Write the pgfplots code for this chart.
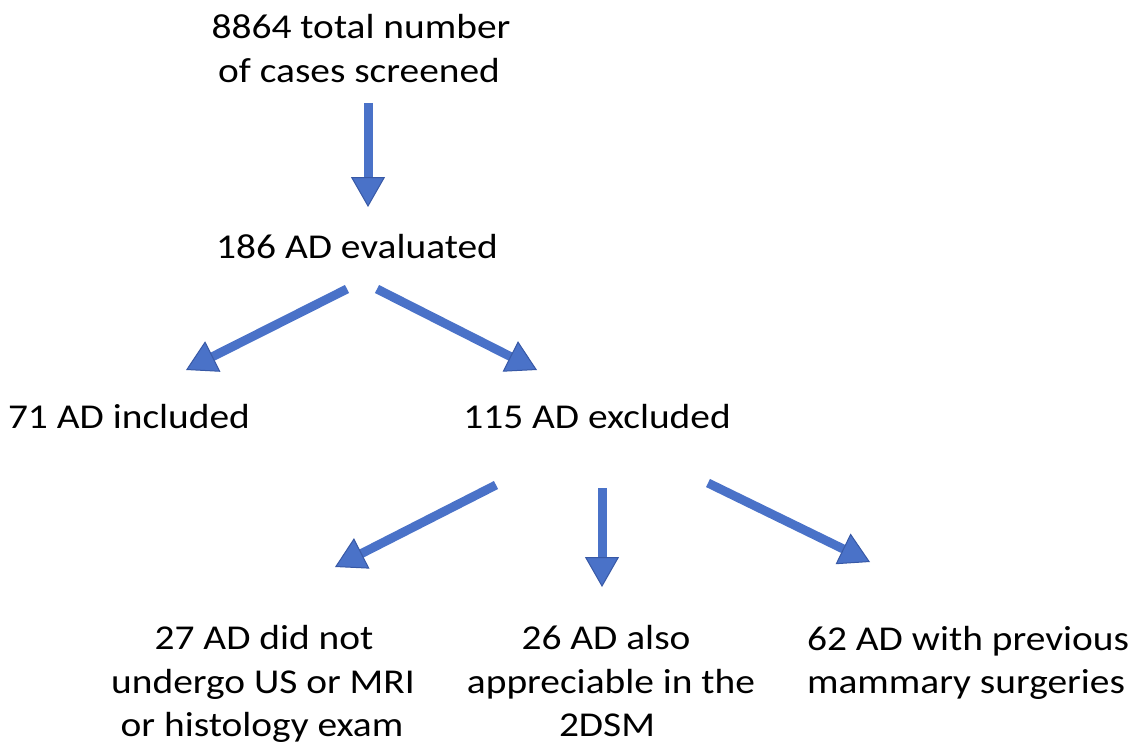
\documentclass[border=0pt]{standalone}
\usepackage{pgfplots}
\pgfplotsset{compat=1.18}
\usepackage{fontspec}
\setmainfont{Carlito}
\usetikzlibrary{arrows.meta}
\definecolor{arrowblue}{RGB}{74,114,200}
\definecolor{arrowedge}{RGB}{55,88,165}
\tikzset{flowarrow/.style={arrowblue, line width=9bp,
    -{Triangle[width=34bp,length=30bp,fill=arrowblue,color=arrowedge,line width=1bp]}}}
\begin{document}
\begin{tikzpicture}
\begin{axis}[
  width=1129bp, height=748bp, scale only axis,
  xmin=0, xmax=1129, ymin=0, ymax=748, y dir=reverse,
  hide axis, clip=false,
]
\addplot[draw=none] coordinates {(0,0) (1129,748)};
% arrows
\addplot[flowarrow] coordinates {(368,103) (368,207)};
\addplot[flowarrow] coordinates {(347,289) (186,370)};
\addplot[flowarrow] coordinates {(377,289) (537,370)};
\addplot[flowarrow] coordinates {(496,485) (335,567)};
\addplot[flowarrow] coordinates {(602,488) (602,587)};
\addplot[flowarrow] coordinates {(708,483) (870,562)};
% texts
\tikzset{lbl/.style={font=\fontsize{35}{42}\selectfont, inner sep=0pt, anchor=base, text=black, xscale=1.13}}
\node[lbl] at (axis cs:361,39) {8864 total number};
\node[lbl] at (axis cs:359,83) {of cases screened};
\node[lbl] at (axis cs:357,258) {186 AD evaluated};
\node[lbl] at (axis cs:129,428) {71 AD included};
\node[lbl] at (axis cs:597,428) {115 AD excluded};
\node[lbl] at (axis cs:264,649) {27 AD did not};
\node[lbl] at (axis cs:263,693) {undergo US or MRI};
\node[lbl] at (axis cs:262,736) {or histology exam};
\node[lbl] at (axis cs:606,649) {26 AD also};
\node[lbl] at (axis cs:611,693) {appreciable in the};
\node[lbl] at (axis cs:607,736) {2DSM};
\node[lbl] at (axis cs:968,650) {62 AD with previous};
\node[lbl] at (axis cs:966,693) {mammary surgeries};
\end{axis}
\end{tikzpicture}
\end{document}
